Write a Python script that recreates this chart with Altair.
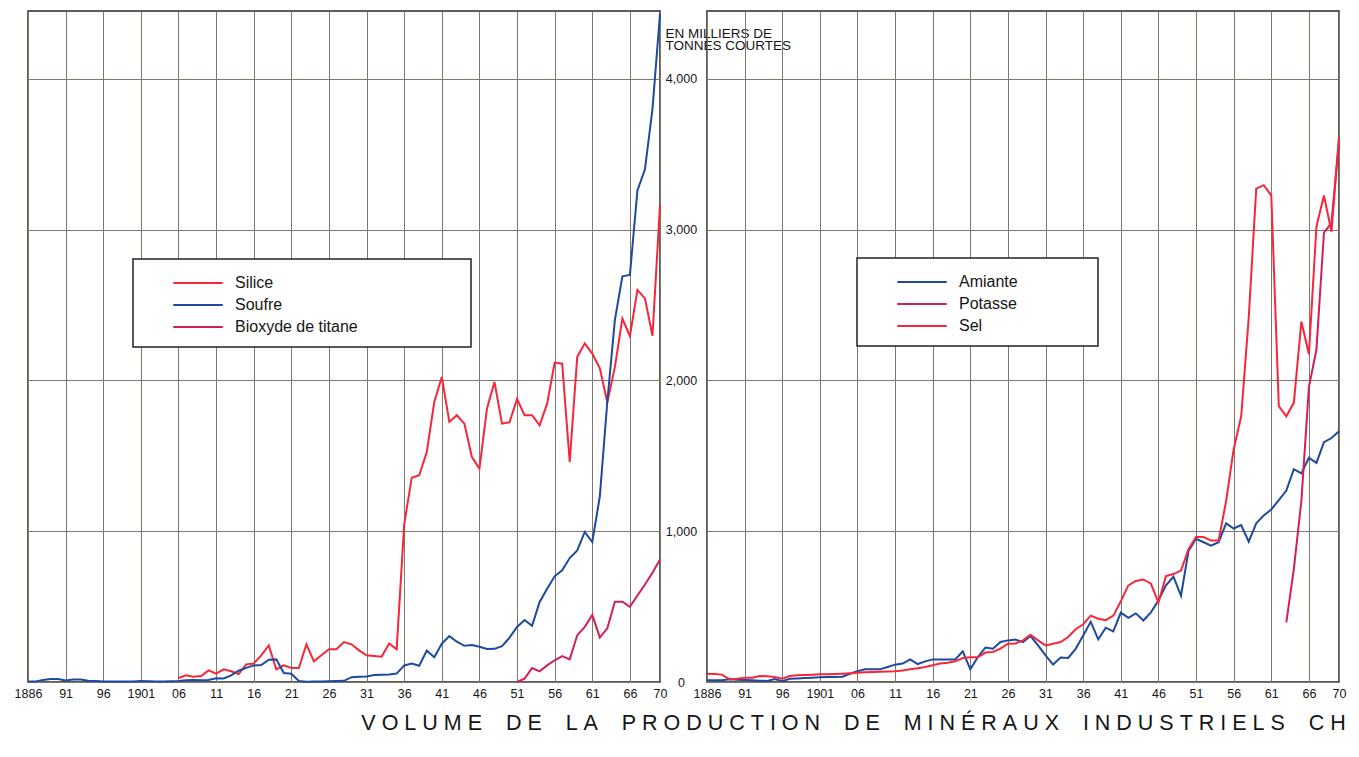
import altair as alt
import pandas as pd

# ---------------- data ----------------
YEARS = list(range(1886, 1971))

# left panel
SOUFRE = [3, 4, 14, 20, 20, 10, 17, 16, 9, 6,
          4, 3, 3, 3, 4, 7, 5, 4, 4, 5,
          7, 12, 13, 11, 13, 25, 24, 44, 75, 94,
          110, 112, 148, 150, 60, 55, 7, 2, 3, 4,
          5, 6, 8, 32, 35, 36, 47, 48, 49, 56,
          110, 122, 108, 208, 164, 254, 304, 267, 240, 245,
          234, 219, 220, 238, 294, 365, 411, 373, 531, 619,
          701, 741, 822, 873, 995, 928, 1230, 1860, 2400, 2690,
          2700, 3260, 3400, 3800, 4430]
SILICE_YEARS = list(range(1906, 1971))
SILICE = [27, 44, 35, 40, 77, 55, 84, 71, 53, 117,
          122, 177, 243, 84, 111, 93, 93, 250, 137, 177,
          217, 217, 265, 250, 210, 177, 172, 168, 256, 217,
          1045, 1355, 1371, 1525, 1857, 2023, 1725, 1769, 1713, 1492,
          1415, 1813, 1990, 1713, 1722, 1877, 1769, 1769, 1702, 1846,
          2118, 2111, 1459, 2156, 2246, 2178, 2080, 1855, 2088, 2410,
          2294, 2600, 2544, 2296, 3163]
TITANE_YEARS = list(range(1951, 1971))
TITANE = [0, 22, 93, 71, 110, 144, 172, 150, 310, 365,
          445, 296, 356, 532, 532, 498, 574, 647, 725, 812]

# right panel
AMIANTE = [11, 11, 11, 18, 15, 13, 11, 9, 7, 20,
           5, 22, 24, 27, 29, 31, 33, 33, 35, 55,
           71, 84, 84, 84, 99, 115, 122, 150, 119, 137,
           150, 150, 150, 150, 203, 84, 166, 228, 221, 265,
           276, 281, 265, 305, 243, 177, 116, 163, 160, 220,
           309, 400, 282, 360, 335, 460, 425, 455, 408, 462,
           540, 641, 698, 572, 869, 950, 927, 904, 927, 1052,
           1018, 1041, 931, 1052, 1105, 1144, 1206, 1270, 1412, 1384,
           1487, 1453, 1590, 1618, 1663]
SEL = [55, 53, 49, 18, 22, 29, 29, 40, 38, 33,
       22, 40, 44, 46, 48, 51, 52, 53, 55, 58,
       62, 64, 66, 68, 69, 71, 77, 84, 91, 99,
       111, 122, 128, 137, 159, 164, 164, 195, 199, 221,
       254, 256, 276, 314, 276, 243, 254, 265, 298, 350,
       383, 440, 420, 410, 440, 535, 641, 670, 680, 652,
       526, 702, 716, 739, 881, 961, 961, 938, 938, 1201,
       1544, 1762, 2414, 3272, 3295, 3226, 1830, 1762, 1853, 2391,
       2174, 3020, 3226, 2986, 3615]
POTASSE_YEARS = list(range(1963, 1971))
POTASSE = [395, 750, 1201, 1956, 2205, 2980, 3045, 3590]

LEFT_NAMES = ["Silice", "Soufre", "Bioxyde de titane"]
RIGHT_NAMES = ["Amiante", "Potasse", "Sel"]

TICK_YEARS = [1886, 1891, 1896, 1901, 1906, 1911, 1916, 1921, 1926, 1931,
              1936, 1941, 1946, 1951, 1956, 1961, 1966, 1970]
Y_TICKS = [0, 1000, 2000, 3000, 4000]
UNIT_TITLE = ["EN MILLIERS DE", "TONNES COURTES"]
TITLE_WORDS = ["VOLUME", "DE", "LA", "PRODUCTION", "DE", "MINÉRAUX", "INDUSTRIELS", "CH"]

# ---------------- styling ----------------
FONT = "Liberation Sans"
INK = "#151515"
GRID = "#7e786d"
BORDER = "#2a2724"
RED = "#f6263b"
BLUE = "#1d4a9e"
CRIMSON = "#d11f5a"
LEFT_COLORS = [RED, BLUE, CRIMSON]
RIGHT_COLORS = [BLUE, CRIMSON, RED]

W, H = 632, 671
NB = "\u00a0"


def long_table(pairs):
    rows = []
    for name, yrs, vals in pairs:
        for yr, v in zip(yrs, vals):
            rows.append({"year": yr, "value": v, "series": name})
    return pd.DataFrame(rows)


df_left = long_table([("Silice", SILICE_YEARS, SILICE),
                      ("Soufre", YEARS, SOUFRE),
                      ("Bioxyde de titane", TITANE_YEARS, TITANE)])
df_right = long_table([("Amiante", YEARS, AMIANTE),
                       ("Potasse", POTASSE_YEARS, POTASSE),
                       ("Sel", YEARS, SEL)])

x_scale = alt.Scale(domain=[1886, 1970], nice=False, zero=False)
y_scale = alt.Scale(domain=[0, 4450], nice=False)

label_expr = ("datum.value == 1886 || datum.value == 1901 ? toString(datum.value) "
              ": slice(toString(datum.value), 2)")


def x_axis():
    return alt.Axis(values=TICK_YEARS, labelExpr=label_expr, grid=True,
                    gridColor=GRID, gridWidth=1, domain=False, ticks=False,
                    tickSize=0, labelPadding=5, labelFontSize=12.5, labelFont=FONT,
                    labelColor=INK, labelFlush=False, labelOverlap=False, title=None)


def legend(x, y, right_gap):
    return alt.Legend(orient="none", legendX=x, legendY=y,
                      title=NB, titleOrient="right", titlePadding=right_gap,
                      titleFontSize=10, titleColor="white",
                      symbolType="M-2.25,0H2.25", symbolSize=484, symbolStrokeWidth=2,
                      symbolOffset=41, labelOffset=25, labelFontSize=16,
                      labelFont=FONT, labelColor=INK, padding=12, rowPadding=2,
                      fillColor="white", strokeColor="#222222")


left = alt.Chart(df_left).mark_line(strokeWidth=2).encode(
    x=alt.X("year:Q", scale=x_scale, axis=x_axis()),
    y=alt.Y("value:Q", scale=y_scale,
            axis=alt.Axis(orient="right", values=Y_TICKS, format=",.0f", grid=True,
                          gridColor=GRID, gridWidth=1, domain=False, ticks=False,
                          tickSize=0, labelAlign="center", labelPadding=21,
                          labelFontSize=12.5, labelFont=FONT, labelColor=INK,
                          title=UNIT_TITLE, titleAngle=0, titleAlign="left",
                          titleBaseline="top", titleX=5, titleY=15,
                          titleFontSize=13.5, titleFont=FONT, titleFontWeight="normal",
                          titleColor=INK, titleLineHeight=12.5)),
    color=alt.Color("series:N", sort=LEFT_NAMES,
                    scale=alt.Scale(domain=LEFT_NAMES, range=LEFT_COLORS),
                    legend=legend(105, 248, 101)),
).properties(width=W, height=H)

right = alt.Chart(df_right).mark_line(strokeWidth=2).encode(
    x=alt.X("year:Q", scale=x_scale, axis=x_axis()),
    y=alt.Y("value:Q", scale=y_scale,
            axis=alt.Axis(orient="left", values=Y_TICKS, grid=True, gridColor=GRID,
                          gridWidth=1, domain=False, ticks=False, tickSize=0,
                          labels=False, title=None)),
    color=alt.Color("series:N", sort=RIGHT_NAMES,
                    scale=alt.Scale(domain=RIGHT_NAMES, range=RIGHT_COLORS),
                    legend=legend(150, 247, 68)),
).properties(width=W, height=H)

title_text = (NB * 4).join(NB.join(w) for w in TITLE_WORDS)

chart = alt.hconcat(left, right, spacing=47, bounds="flush").resolve_scale(
    color="independent"
).resolve_legend(color="independent").properties(
    title=alt.TitleParams(text=title_text, orient="bottom", anchor="start", dx=348,
                          offset=13, fontSize=21.5, font=FONT, fontWeight="normal",
                          color=INK),
    padding={"left": 5, "top": 1, "right": 0, "bottom": 4},
).configure_view(stroke=BORDER, strokeWidth=1.5).configure_legend(strokeWidth=1.5)

chart.save("out.html", embed_options={"renderer": "svg", "actions": False})
